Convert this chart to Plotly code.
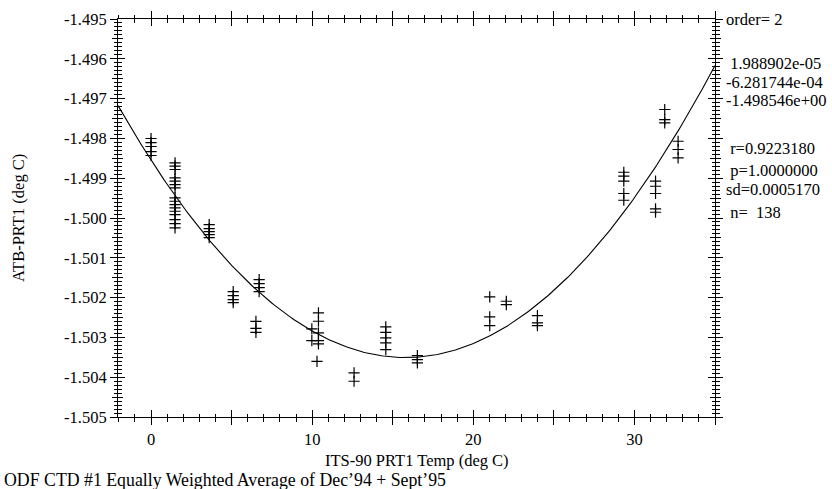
import numpy as np
import plotly.graph_objects as go

# ---------------- data ----------------
temp_c = [
    0.0, 0.0, 0.0, 0.0, 0.0,
    1.49, 1.49, 1.49, 1.49, 1.49, 1.49, 1.49, 1.49, 1.49, 1.49, 1.49, 1.49, 1.49, 1.49, 1.49, 1.49,
    3.61, 3.61, 3.61, 3.61, 3.61,
    5.10, 5.10, 5.10, 5.10,
    6.51, 6.51, 6.51,
    6.71, 6.71, 6.71, 6.71,
    9.98, 9.98,
    10.39, 10.39, 10.39, 10.39, 10.39, 10.30,
    12.60, 12.60,
    14.57, 14.57, 14.57, 14.57, 14.57,
    16.53, 16.53, 16.53,
    21.02, 21.02, 21.02,
    22.05, 22.05,
    23.98, 23.98, 23.98,
    29.34, 29.34, 29.34, 29.34, 29.34,
    31.31, 31.31, 31.31, 31.31, 31.31,
    31.88, 31.88, 31.88,
    32.71, 32.71, 32.71,
]
atb_minus_prt = [
    -1.498003, -1.498104, -1.498204, -1.498330, -1.498430,
    -1.498614, -1.498699, -1.498782, -1.498991, -1.499076, -1.499159, -1.499242, -1.499493,
    -1.499579, -1.499662, -1.499745, -1.499830, -1.499913, -1.500039, -1.500139, -1.500247,
    -1.500164, -1.500265, -1.500340, -1.500416, -1.500491,
    -1.501848, -1.501949, -1.502049, -1.502125,
    -1.502595, -1.502771, -1.502872,
    -1.501546, -1.501647, -1.501747, -1.501848,
    -1.502786, -1.503080,
    -1.502383, -1.502594, -1.502886, -1.503080, -1.503162, -1.503600,
    -1.503891, -1.504102,
    -1.502736, -1.502872, -1.503012, -1.503138, -1.503306,
    -1.503456, -1.503557, -1.503640,
    -1.501981, -1.502484, -1.502702,
    -1.502092, -1.502175,
    -1.502451, -1.502635, -1.502702,
    -1.498850, -1.498950, -1.499076, -1.499385, -1.499554,
    -1.499076, -1.499202, -1.499385, -1.499770, -1.499855,
    -1.497274, -1.497526, -1.497609,
    -1.498071, -1.498279, -1.498488,
]

# fitted polynomial coefficients printed on the chart (highest order first)
fit_coeffs = [1.988902e-05, -6.281744e-04, -1.498546e+00]

x_range = [-2.05, 35.0]
y_range = [-1.505, -1.495]
x_tick_vals = [0, 5, 10, 15, 20, 25, 30, 35]
x_tick_text = ["0", "", "10", "", "20", "", "30", ""]
y_tick_vals = [-1.505, -1.504, -1.503, -1.502, -1.501, -1.500, -1.499, -1.498, -1.497, -1.496, -1.495]
y_tick_text = ["-1.505", "-1.504", "-1.503", "-1.502", "-1.501", "-1.500",
               "-1.499", "-1.498", "-1.497", "-1.496", "-1.495"]
y_mid_vals = [-1.5045, -1.5035, -1.5025, -1.5015, -1.5005, -1.4995, -1.4985, -1.4975, -1.4965, -1.4955]

stats_lines = ["order= 2", "", "\u00a01.988902e-05", "-6.281744e-04", "-1.498546e+00", "",
               "\u00a0r=0.9223180", "\u00a0p=1.0000000", "sd=0.0005170", "\u00a0n=\u00a0\u00a0138"]

x_title = "ITS-90 PRT1 Temp (deg C)"
y_title = "ATB-PRT1 (deg C)"
footnote = "ODF CTD #1 Equally Weighted Average of Dec\u201994 + Sept\u201995"

# ---------------- figure ----------------
FONT = "Liberation Serif, Times New Roman, serif"
FS = 16.5
W, H = 832, 489
ML, MR, MT, MB = 118, 117, 19, 72

curve_x = np.linspace(x_range[0], x_range[1], 300)
curve_y = np.polyval(fit_coeffs, curve_x)

fig = go.Figure()
fig.add_trace(go.Scatter(x=curve_x, y=curve_y, mode="lines",
                         line=dict(color="black", width=1.1), hoverinfo="skip"))
fig.add_trace(go.Scatter(x=temp_c, y=atb_minus_prt, mode="markers",
                         marker=dict(symbol="cross-thin", size=8,
                                     line=dict(color="black", width=1.2))))
# invisible traces to activate the overlay axes that draw the inner halves of the ticks
fig.add_trace(go.Scatter(x=[None], y=[None], xaxis="x2", yaxis="y2", showlegend=False))
fig.add_trace(go.Scatter(x=[None], y=[None], xaxis="x", yaxis="y3", showlegend=False))
fig.add_trace(go.Scatter(x=[None], y=[None], xaxis="x", yaxis="y4", showlegend=False))

tickfont = dict(family=FONT, size=FS, color="black")
common_x = dict(range=x_range, tickmode="array", tickvals=x_tick_vals, showgrid=False,
                zeroline=False, fixedrange=True, ticklen=7, tickwidth=1, tickcolor="black",
                mirror="ticks", automargin=False)
common_y = dict(range=y_range, showgrid=False, zeroline=False, fixedrange=True,
                tickwidth=1, tickcolor="black", mirror="ticks", automargin=False)

fig.update_layout(
    width=W, height=H,
    margin=dict(l=ML, r=MR, t=MT, b=MB, pad=0),
    paper_bgcolor="white", plot_bgcolor="white",
    showlegend=False,
    font=dict(family=FONT, size=FS, color="black"),
    xaxis=dict(**common_x, ticktext=x_tick_text, ticks="outside", tickfont=tickfont,
               showline=True, linecolor="black", linewidth=1,
               minor=dict(dtick=1, tick0=0, ticks="outside", ticklen=3.5,
                          tickcolor="black", tickwidth=1, showgrid=False)),
    xaxis2=dict(**common_x, overlaying="x", anchor="y", side="bottom", ticks="inside",
                showticklabels=False, showline=False,
                minor=dict(dtick=1, tick0=0, ticks="inside", ticklen=3.5,
                           tickcolor="black", tickwidth=1, showgrid=False)),
    yaxis=dict(**common_y, tickmode="array", tickvals=y_tick_vals, ticktext=y_tick_text,
               ticks="outside", ticklen=7, tickfont=tickfont,
               showline=True, linecolor="black", linewidth=1,
               minor=dict(dtick=0.0001, tick0=-1.505, ticks="outside", ticklen=3.5,
                          tickcolor="black", tickwidth=1, showgrid=False)),
    yaxis2=dict(**common_y, overlaying="y", anchor="x2", side="left", tickmode="array",
                tickvals=y_tick_vals, ticks="inside", ticklen=7, showticklabels=False,
                showline=False,
                minor=dict(dtick=0.0001, tick0=-1.505, ticks="inside", ticklen=3.5,
                           tickcolor="black", tickwidth=1, showgrid=False)),
    yaxis3=dict(**common_y, overlaying="y", anchor="x", side="left", tickmode="array",
                tickvals=y_mid_vals, ticks="outside", ticklen=5, showticklabels=False,
                showline=False),
    yaxis4=dict(**common_y, overlaying="y", anchor="x", side="left", tickmode="array",
                tickvals=y_mid_vals, ticks="inside", ticklen=5, showticklabels=False,
                showline=False),
)

annotations = []
stat_offsets = [0, 0, 44, 63, 81, 0, 129, 151, 170, 193]  # px below the top edge
for i, txt in enumerate(stats_lines):
    if not txt:
        continue
    annotations.append(dict(text=txt, xref="paper", yref="paper", x=1, y=1,
                            xanchor="left", yanchor="middle", xshift=9,
                            yshift=-stat_offsets[i], showarrow=False, align="left",
                            font=dict(family=FONT, size=FS, color="black")))
annotations.append(dict(text=x_title, xref="paper", yref="paper", x=0.5, y=0,
                        xanchor="center", yanchor="middle", yshift=-43, showarrow=False,
                        font=dict(family=FONT, size=FS, color="black")))
annotations.append(dict(text=y_title, xref="paper", yref="paper", x=0, y=0.5,
                        xanchor="center", yanchor="middle", xshift=-100, textangle=-90,
                        showarrow=False, font=dict(family=FONT, size=FS, color="black")))
annotations.append(dict(text=footnote, xref="paper", yref="paper", x=0, y=0,
                        xanchor="left", yanchor="middle", xshift=-116, yshift=-63,
                        showarrow=False, font=dict(family=FONT, size=17.8, color="black")))
fig.update_layout(annotations=annotations)

fig.write_html("out.html", config={"displayModeBar": False},
               post_script="document.body.style.margin='0';document.body.style.overflow='hidden';")
